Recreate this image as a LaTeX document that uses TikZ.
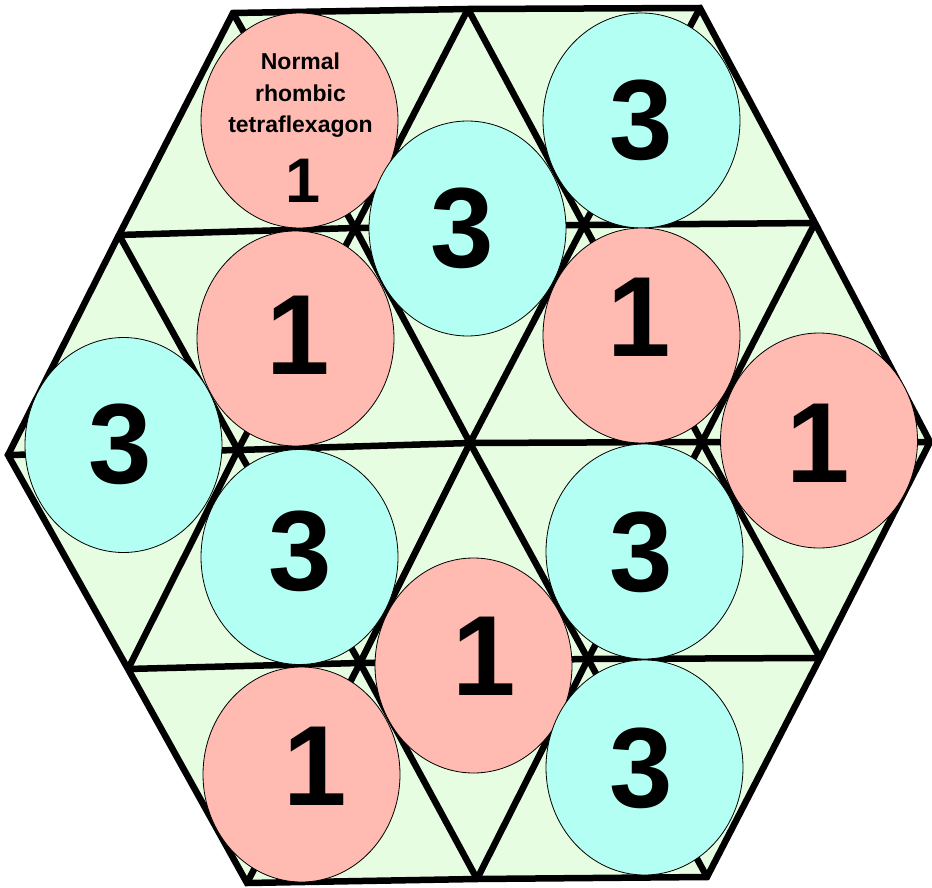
\documentclass[tikz,border=0pt]{standalone}
\usepackage{fontspec}
\setmainfont{Liberation Sans}
\usetikzlibrary{shapes.geometric}
\definecolor{hexgreen}{RGB}{230,253,226}
\definecolor{flexpink}{RGB}{255,187,178}
\definecolor{flexcyan}{RGB}{180,255,243}
\begin{document}
\begin{tikzpicture}[x=1pt,y=-1pt,
  gridline/.style={line width=6.5pt, line join=miter, line cap=butt},
  face/.style={ellipse, draw=black, line width=0.8pt, minimum width=197pt, minimum height=215pt, inner sep=0pt},
  pinkface/.style={face, fill=flexpink},
  cyanface/.style={face, fill=flexcyan},
  digit/.style={font=\fontsize{114}{114}\selectfont\bfseries, inner sep=0pt},
  smalltext/.style={font=\fontsize{23}{23}\selectfont\bfseries, inner sep=0pt, anchor=base},
  smalldigit/.style={font=\fontsize{63}{63}\selectfont\bfseries, inner sep=0pt}]
\useasboundingbox (0,0) rectangle (932,888);
% grid vertices
\coordinate (A0) at (233,13);
\coordinate (A1) at (468,9);
\coordinate (A2) at (700,8);
\coordinate (B0) at (119,235);
\coordinate (B1) at (355,228);
\coordinate (B2) at (584,225);
\coordinate (B3) at (815,223);
\coordinate (C0) at (8,455);
\coordinate (C1) at (238,450);
\coordinate (C2) at (470,443);
\coordinate (C3) at (702,442);
\coordinate (C4) at (930,442);
\coordinate (D0) at (128,669);
\coordinate (D1) at (360,663);
\coordinate (D2) at (588,659);
\coordinate (D3) at (820,658);
\coordinate (E0) at (247,883);
\coordinate (E1) at (477,879);
\coordinate (E2) at (707,877);
% background
\fill[hexgreen] (A0) -- (A1) -- (A2) -- (B3) -- (C4) -- (D3) -- (E2) -- (E1) -- (E0) -- (D0) -- (C0) -- (B0) -- cycle;
% outline
\draw[gridline] (A0) -- (A1) -- (A2) -- (B3) -- (C4) -- (D3) -- (E2) -- (E1) -- (E0) -- (D0) -- (C0) -- (B0) -- cycle;
% horizontal lines
\draw[gridline] (B0) -- (B1) -- (B2) -- (B3);
\draw[gridline] (C0) -- (C1) -- (C2) -- (C3) -- (C4);
\draw[gridline] (D0) -- (D1) -- (D2) -- (D3);
% slanted lines /
\draw[gridline] (A1) -- (B1) -- (C1) -- (D0);
\draw[gridline] (A2) -- (B2) -- (C2) -- (D1) -- (E0);
\draw[gridline] (B3) -- (C3) -- (D2) -- (E1);
% slanted lines \
\draw[gridline] (A1) -- (B2) -- (C3) -- (D3);
\draw[gridline] (A0) -- (B1) -- (C2) -- (D2) -- (E2);
\draw[gridline] (B0) -- (C1) -- (D1) -- (E1);
% faces
\node[pinkface] (f1) at (299.5,120.5) {};
\node[cyanface] (f2) at (467.5,228.5) {};
\node[cyanface] (f3) at (641.5,120.5) {};
\node[pinkface] (f4) at (295.5,338.5) {};
\node[pinkface] (f5) at (641.5,335.5) {};
\node[cyanface] (f6) at (123.5,445) {};
\node[pinkface] (f7) at (819,440.5) {};
\node[cyanface] (f8) at (299.5,557) {};
\node[cyanface] (f9) at (644.5,551.5) {};
\node[pinkface] (f10) at (473.5,665.5) {};
\node[pinkface] (f11) at (301.5,774.5) {};
\node[cyanface] (f12) at (644.5,767.5) {};
% texts
\node[smalltext] (t1) at (300.5,70) {Normal};
\node[smalltext] (t2) at (300.5,101.5) {rhombic};
\node[smalltext] (t3) at (300.5,133) {tetraflexagon};
\node[smalldigit] (n1) at (303.5,180.5) {1};
\node[digit] (n2) at (462,228.5) {3};
\node[digit] (n3) at (641.5,120.5) {3};
\node[digit] (n4) at (298,335.5) {1};
\node[digit] (n5) at (639,317) {1};
\node[digit] (n6) at (120,444) {3};
\node[digit] (n7) at (818.5,443) {1};
\node[digit] (n8) at (300,551.5) {3};
\node[digit] (n9) at (641.5,552) {3};
\node[digit] (n10) at (484,656.5) {1};
\node[digit] (n11) at (315.5,766) {1};
\node[digit] (n12) at (641.5,768) {3};
\end{tikzpicture}
\end{document}
